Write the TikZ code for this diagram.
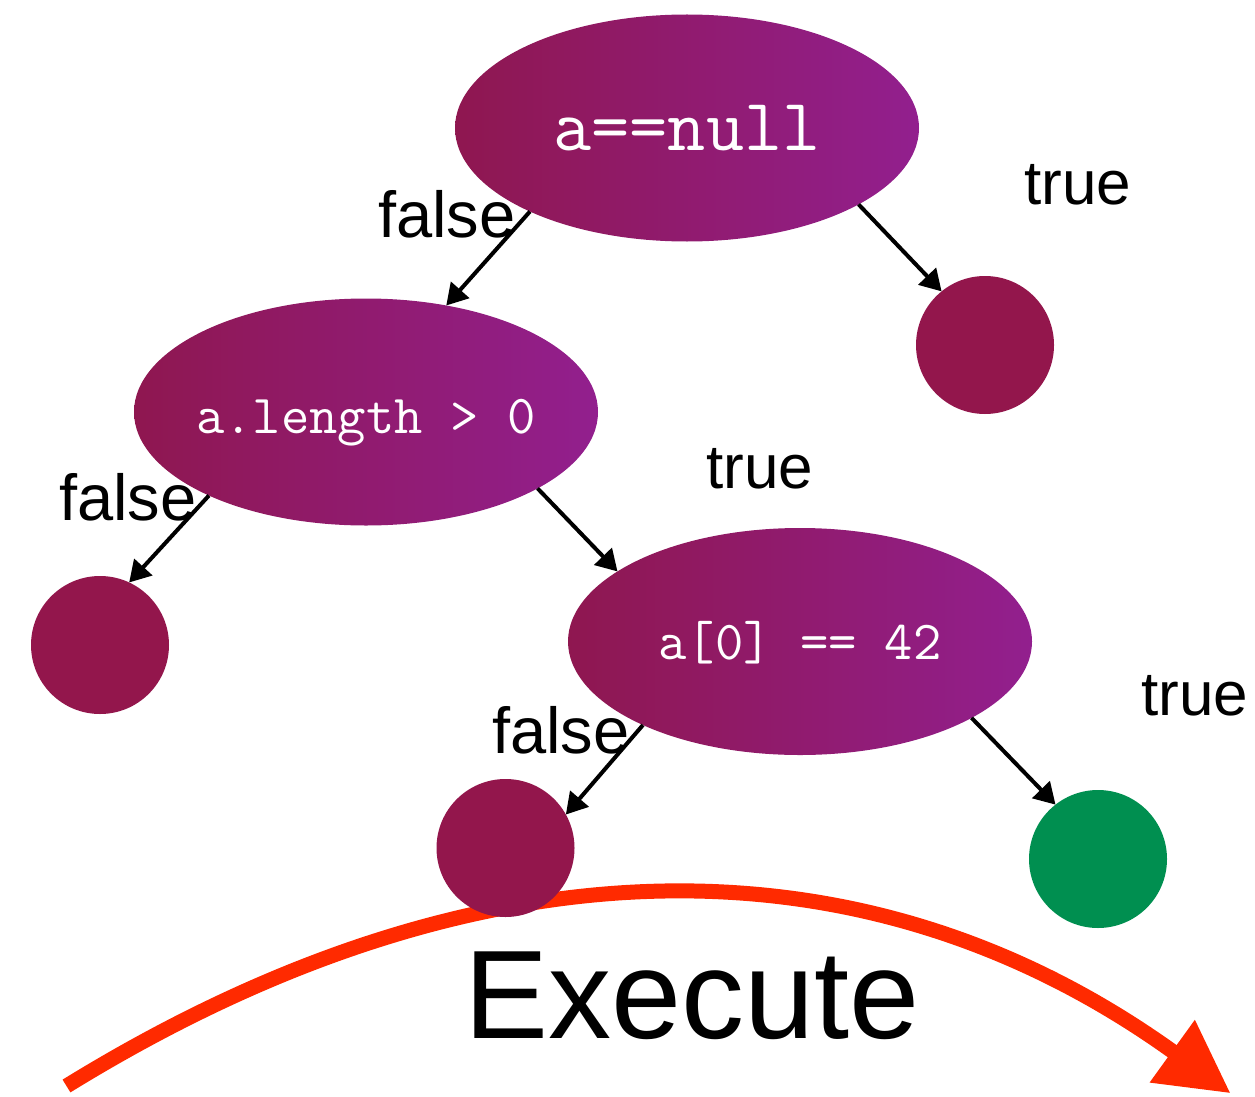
\documentclass[tikz,border=0pt]{standalone}
\usepackage{fontspec}
\setmainfont{Liberation Sans}
\usetikzlibrary{shapes.geometric,arrows.meta}
\definecolor{ellL}{RGB}{143,23,80}
\definecolor{ellR}{RGB}{146,31,142}
\definecolor{leafred}{RGB}{147,22,76}
\definecolor{leafgreen}{RGB}{0,143,80}
\definecolor{execred}{RGB}{255,42,0}
\begin{document}
\begin{tikzpicture}[x=1pt,y=-1pt,
  cond/.style={ellipse, minimum width=464pt, minimum height=227pt, inner sep=0pt, outer sep=0pt,
    left color=ellL, right color=ellR, draw=none, text=white, text depth=0pt},
  leaf/.style={circle, minimum size=138pt, inner sep=0pt, outer sep=0pt, fill=leafred, draw=none},
  edge/.style={line width=4pt, draw=black, -{Triangle[length=21pt,width=24pt]}},
  lbltrue/.style={anchor=base, inner sep=0pt, font=\fontsize{62}{70}\selectfont},
  lblfalse/.style={anchor=base, inner sep=0pt, font=\fontsize{65}{70}\selectfont},
  execarc/.style={draw=execred, line width=15pt, -{Triangle[length=72pt,width=73pt]}}]
\useasboundingbox (0,0) rectangle (1255,1097);
% execute arc (drawn first, behind the circles)
\coordinate (exS) at (66.5,1086);
\coordinate (exE) at (1230.6,1093.3);
\draw[execarc] (exS) .. controls (481.4,830.3) and (869.4,832.7) .. (exE);
% condition nodes
\node[cond, text height=44pt] (e1) at (687,128) {\makebox[0pt]{\ttfamily\fontsize{74}{74}\selectfont a==null}};
\node[cond, text height=42pt] (e2) at (366,412) {\makebox[0pt]{\ttfamily\fontsize{55}{55}\selectfont a.length > 0}};
\node[cond, text height=36pt] (e3) at (800,641.5) {\makebox[0pt]{\ttfamily\fontsize{55}{55}\selectfont a[0] == 42}};
% leaves
\node[leaf] (c1) at (985,345) {};
\node[leaf] (c2) at (100,645) {};
\node[leaf] (c3) at (505.5,848) {};
\node[leaf, fill=leafgreen] (c4) at (1098,859) {};
% labels
\node[lblfalse] (f1) at (447,237) {false};
\node[lbltrue] (t1) at (1078,204.3) {true};
\node[lblfalse] (f2) at (128,520.5) {false};
\node[lbltrue] (t2) at (760,488.3) {true};
\node[lblfalse] (f3) at (561,753.4) {false};
\node[lbltrue] (t3) at (1195,715.7) {true};
% edges
\draw[edge] (e1.208.5) -- (e2.53.4);
\draw[edge] (e1.336.4) -- (c1.129.3);
\draw[edge] (e2.208.9) -- (c2.65.8);
\draw[edge] (e2.336.1) -- (e3.159.4);
\draw[edge] (e3.208.8) -- (c3.29.9);
\draw[edge] (e3.336.6) -- (c4.128.8);
% execute text
\node[anchor=base, inner sep=0pt, font=\fontsize{126}{130}\selectfont] (exec) at (692,1038) {Execute};
\end{tikzpicture}
\end{document}
